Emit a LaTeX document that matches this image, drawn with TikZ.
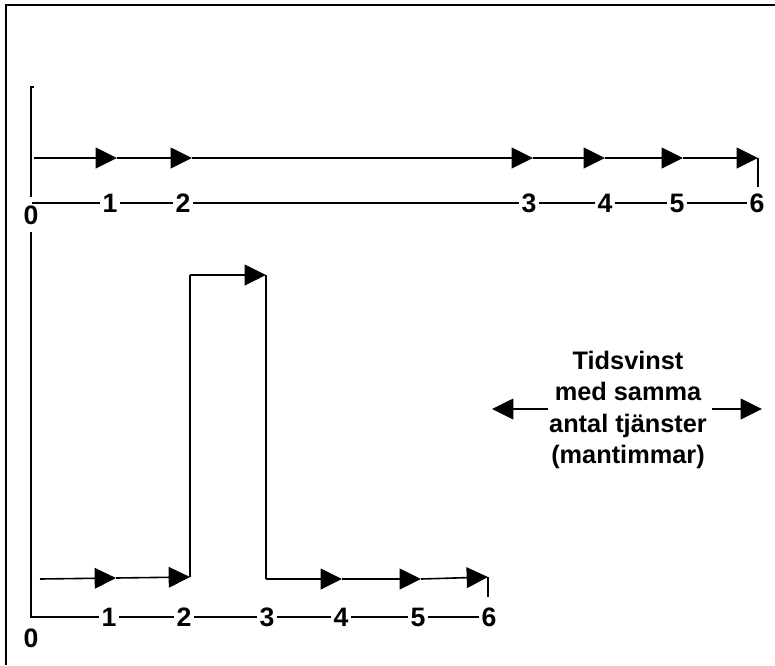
\documentclass[tikz,border=0pt]{standalone}
\usepackage{fontspec}
\setmainfont{Liberation Sans}
\usetikzlibrary{arrows.meta}
\begin{document}
\begin{tikzpicture}[x=0.75pt,y=-0.75pt,line width=1.2pt,
  lbl/.style={font=\bfseries\fontsize{20}{20}\selectfont,inner sep=1.5pt},
  txt/.style={font=\bfseries\fontsize{19}{23.5}\selectfont,align=center,inner sep=0pt},
  arr/.style={-{Triangle[length=16pt,width=15.5pt]}}]
  \useasboundingbox (0,0) rectangle (775,665);
  \draw [line width=1.5pt] (6,665) -- (6,5) -- (775,5);
  % upper schedule
  \coordinate (v0) at (34,87);
  \coordinate (v1) at (31,87);
  \coordinate (v2) at (31,197);
  \draw (v0) -- (v1) -- (v2);
  \coordinate (p0) at (34,158);
  \coordinate (p1) at (117,158);
  \coordinate (p2) at (192,158);
  \coordinate (p3) at (533,158);
  \coordinate (p4) at (605,158);
  \coordinate (p5) at (683,158);
  \coordinate (p6) at (758,158);
  \coordinate (p7) at (758,187);
  \draw [arr] (p0) -- (p1);
  \draw [arr] (p1) -- (p2);
  \draw [arr] (p2) -- (p3);
  \draw [arr] (p3) -- (p4);
  \draw [arr] (p4) -- (p5);
  \draw [arr] (p5) -- (p6);
  \draw (p6) -- (p7);
  \coordinate (a0) at (32,203);
  \node [lbl] (t0) at (31,215) {0};
  \node [lbl] (t1) at (110,203) {1};
  \node [lbl] (t2) at (183,203) {2};
  \node [lbl] (t3) at (529,203) {3};
  \node [lbl] (t4) at (605,203) {4};
  \node [lbl] (t5) at (677,203) {5};
  \node [lbl] (t6) at (757,203) {6};
  \draw (a0) -- (t1) -- (t2) -- (t3) -- (t4) -- (t5) -- (t6);
  % lower schedule
  \coordinate (q0) at (40,579);
  \coordinate (q1) at (116,578);
  \coordinate (q2) at (190,577);
  \coordinate (q3) at (190,275);
  \coordinate (q4) at (266,275);
  \coordinate (q5) at (266,579);
  \coordinate (q6) at (342,579);
  \coordinate (q7) at (421,579);
  \coordinate (q8) at (488,577);
  \coordinate (q9) at (488,597);
  \draw [arr] (q0) -- (q1);
  \draw [arr] (q1) -- (q2);
  \draw (q2) -- (q3);
  \draw [arr] (q3) -- (q4);
  \draw (q4) -- (q5);
  \draw [arr] (q5) -- (q6);
  \draw [arr] (q6) -- (q7);
  \draw [arr] (q7) -- (q8);
  \draw (q8) -- (q9);
  \coordinate (c0) at (31,232);
  \coordinate (c1) at (31,617);
  \node [lbl] (b0) at (31,638) {0};
  \node [lbl] (b1) at (109,617) {1};
  \node [lbl] (b2) at (184,617) {2};
  \node [lbl] (b3) at (267,617) {3};
  \node [lbl] (b4) at (341,617) {4};
  \node [lbl] (b5) at (418,617) {5};
  \node [lbl] (b6) at (489,617) {6};
  \draw (c0) -- (c1) -- (b1) -- (b2) -- (b3) -- (b4) -- (b5) -- (b6);
  % time gain
  \node [txt] (gain) at (628,410) {Tidsvinst\\med samma\\antal tjänster\\(mantimmar)};
  \coordinate (l0) at (548,409);
  \coordinate (l1) at (492,409);
  \coordinate (r0) at (712,409);
  \coordinate (r1) at (762,409);
  \draw [arr] (l0) -- (l1);
  \draw [arr] (r0) -- (r1);
\end{tikzpicture}
\end{document}
